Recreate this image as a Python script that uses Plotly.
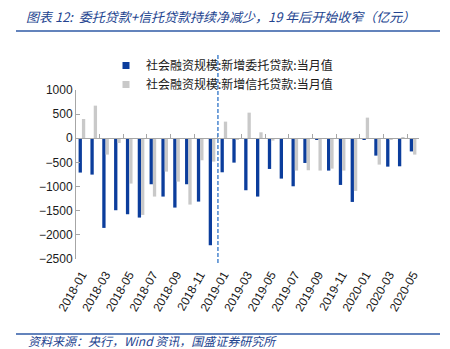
import plotly.graph_objects as go

months = ["2018-01","2018-02","2018-03","2018-04","2018-05","2018-06","2018-07","2018-08",
          "2018-09","2018-10","2018-11","2018-12","2019-01","2019-02","2019-03","2019-04",
          "2019-05","2019-06","2019-07","2019-08","2019-09","2019-10","2019-11","2019-12",
          "2020-01","2020-02","2020-03","2020-04","2020-05"]
entrusted = [-710, -752, -1856, -1490, -1573, -1642, -952, -1207, -1435, -952, -1311, -2215,
             -704, -504, -1076, -1207, -635, -835, -994, -511, -35, -669, -966, -1318,
             -30, -359, -587, -580, -272]
trust = [400, 676, -338, -97, -938, -1587, -1207, -690, -897, -1373, -455, -483,
         345, -35, 531, 124, -48, -5, -669, -662, -669, -628, -669, -1090,
         428, -545, -25, 25, -338]
name_blue = "社会融资规模:新增委托贷款:当月值"
name_gray = "社会融资规模:新增信托贷款:当月值"
title_text = "图表 12:  委托贷款+信托贷款持续净减少，19 年后开始收窄（亿元）"
source_text = "资料来源：央行，Wind 资讯，国盛证券研究所"
split_month = "2019-01"
y_ticks = [1000, 500, 0, -500, -1000, -1500, -2000, -2500]

W, H = 450, 349
L, R, T, B = 76, 31, 90, 90
PW, PH = W - L - R, H - T - B

def px_x(p):
    return (p - L) / PW

def px_y(p):
    return (H - B - p) / PH

BLUE = "#0b3d9c"
GRAY = "#c9c9c9"
AXIS = "#a6a6a6"
TBLUE = "#23448f"
CJK = "Noto Sans CJK SC"

fig = go.Figure()
fig.add_trace(go.Bar(x=months, y=entrusted, name=name_blue, marker_color=BLUE,
                     marker_line_width=0, showlegend=False))
fig.add_trace(go.Bar(x=months, y=trust, name=name_gray, marker_color=GRAY,
                     marker_line_width=0, showlegend=False))
# legend entries with small square symbols
fig.add_trace(go.Scatter(x=[None], y=[None], mode="markers", name=name_blue,
                         marker=dict(symbol="square", size=7, color=BLUE)))
fig.add_trace(go.Scatter(x=[None], y=[None], mode="markers", name=name_gray,
                         marker=dict(symbol="square", size=7, color=GRAY)))
# helper trace for the zero-level axis
fig.add_trace(go.Scatter(x=[None], y=[None], xaxis="x2", showlegend=False, hoverinfo="skip"))

ymin, ymax = min(y_ticks), max(y_ticks)
n = len(months)
split_x = months.index(split_month) - 0.5

fig.update_layout(
    width=W, height=H,
    margin=dict(l=L, r=R, t=T, b=B, pad=0),
    paper_bgcolor="white", plot_bgcolor="white",
    barmode="group", bargap=0.44, bargroupgap=0,
    font=dict(family="Liberation Sans", size=12, color="#1a1a1a"),
    title=dict(text="<i>" + title_text + "</i>", x=26 / W, xanchor="left", xref="container",
               y=1 - 17.5 / H, yanchor="middle", yref="container",
               font=dict(family=CJK, size=13, color=TBLUE)),
    xaxis=dict(type="category", categoryorder="array", categoryarray=months,
               range=[-0.5, n - 0.5], tickvals=months[::2], tickangle=-60,
               showline=False, ticks="outside", ticklen=3, tickcolor="rgba(0,0,0,0)",
               showgrid=False, zeroline=False,
               tickfont=dict(family="Liberation Sans", size=12, color="#1a1a1a")),
    xaxis2=dict(overlaying="x", anchor="free", position=(0 - ymin) / (ymax - ymin),
                range=[-0.5, n - 0.5], tickmode="linear", tick0=-0.5, dtick=2,
                ticks="inside", ticklen=4, tickcolor=AXIS, showline=True, linecolor=AXIS,
                linewidth=1, showticklabels=False, showgrid=False, zeroline=False),
    yaxis=dict(range=[ymin, ymax], tickvals=y_ticks, ticks="inside", ticklen=4,
               tickcolor=AXIS, showline=True, linecolor=AXIS, linewidth=1,
               showgrid=False, zeroline=False,
               tickfont=dict(family="Liberation Sans", size=12, color="#1a1a1a")),
    legend=dict(x=px_x(106), xanchor="left", y=px_y(51), yanchor="top",
                bgcolor="rgba(0,0,0,0)", font=dict(family=CJK, size=12, color="#1a1a1a"),
                tracegroupgap=0, itemwidth=30),
    shapes=[
        dict(type="line", xref="paper", yref="paper", x0=px_x(16), x1=px_x(440),
             y0=px_y(31), y1=px_y(31), line=dict(color="#2f5aa6", width=1.5)),
        dict(type="line", xref="paper", yref="paper", x0=px_x(16), x1=px_x(440),
             y0=px_y(334), y1=px_y(334), line=dict(color="#2f5aa6", width=1.5)),
        dict(type="line", xref="x", yref="paper", x0=split_x, x1=split_x,
             y0=px_y(263), y1=px_y(55), layer="above",
             line=dict(color="#4a86cf", width=1.5, dash="4px,2px")),
    ],
    annotations=[
        dict(text="<i>" + source_text + "</i>", xref="paper", yref="paper",
             x=px_x(26), xanchor="left", y=px_y(340), yanchor="middle", showarrow=False,
             font=dict(family=CJK, size=12, color=TBLUE)),
    ],
)

fig.write_html("out.html")
